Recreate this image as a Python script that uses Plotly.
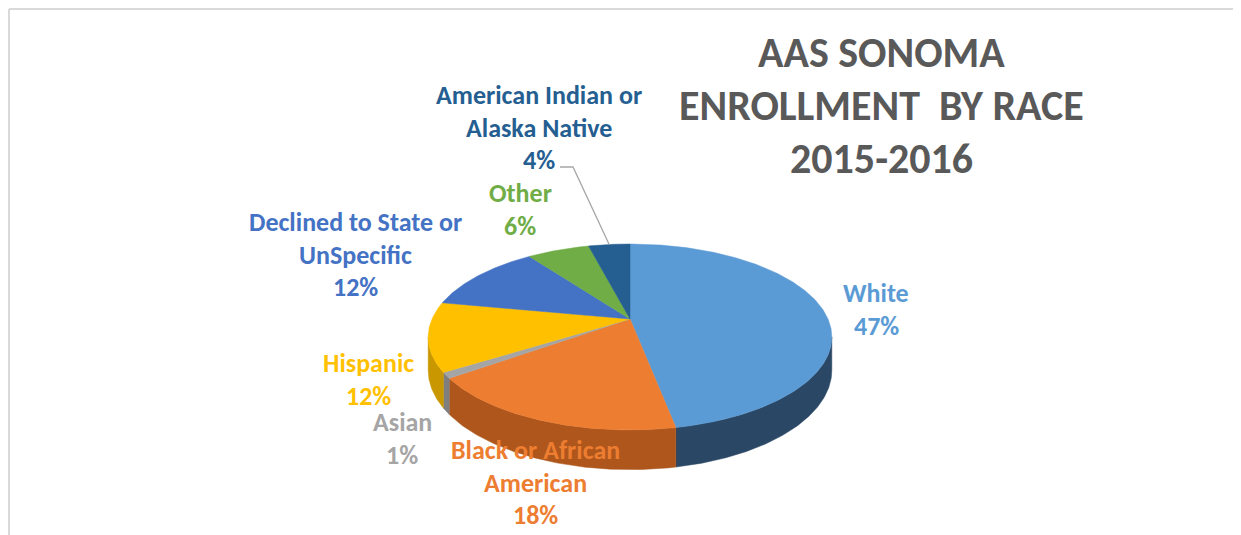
import math
import plotly.graph_objects as go

# ---- data ----
categories = ["White", "Black or African American", "Asian", "Hispanic",
              "Declined to State or UnSpecific", "Other", "American Indian or Alaska Native"]
shares = [47, 18, 1, 12, 12, 6, 4]
pct_labels = ["47%", "18%", "1%", "12%", "12%", "6%", "4%"]
label_lines = [["White"], ["Black or African", "American"], ["Asian"], ["Hispanic"],
               ["Declined to State or", "UnSpecific"], ["Other"], ["American Indian or", "Alaska Native"]]
top_colors = ["#5B9BD5", "#ED7D31", "#A5A5A5", "#FFC000", "#4472C4", "#70AD47", "#255E91"]
side_colors = ["#2A4866", "#AE561B", "#7F7F7F", "#C99800", "#2F5597", "#4E7A31", "#1A4266"]
title_lines = ["AAS SONOMA", "ENROLLMENT  BY RACE", "2015-2016"]

# ---- geometry / style (page pixel space) ----
W, H = 1241, 535
OFF = 8                    # default page body margin
CX, CY = 630, 319          # pie apex on screen
A, B, K = 198, 89.5, 0.1935  # radii and perspective factor
DEPTH = 32
FONT = "Calibri, Carlito, Lato, sans-serif"

def proj(t_deg, r=1.0):
    t = math.radians(t_deg)
    d = 1 + K * r * math.sin(t)
    return CX + A * r * math.cos(t) / d, CY - B * r * math.sin(t) / d

def proj_bottom(t_deg):
    x, y = proj(t_deg)
    d = 1 + K * math.sin(math.radians(t_deg))
    return x, y + DEPTH / d

total = sum(shares)
bounds = []
cum = 0
for v in shares:
    t0 = 90 - 360 * cum / total
    cum += v
    t1 = 90 - 360 * cum / total
    bounds.append((t0, t1))

fig = go.Figure()

ts = math.degrees(math.asin(K))
vis_lo, vis_hi = -180 + ts, -ts

def arc(t_a, t_b, n=None):
    n = n or max(4, int(abs(t_a - t_b) * 1.5))
    return [t_a + (t_b - t_a) * i / n for i in range(n + 1)]

# sides first
for i, (t0, t1) in enumerate(bounds):
    hi, lo = min(t0, vis_hi), max(t1, vis_lo)
    if hi <= lo:
        continue
    tt = arc(hi, lo)
    top = [proj(t) for t in tt]
    bot = [proj_bottom(t) for t in tt][::-1]
    pts = top + bot + [top[0]]
    fig.add_trace(go.Scatter(x=[p[0] for p in pts], y=[p[1] for p in pts], mode="lines",
                             fill="toself", fillcolor=side_colors[i],
                             line=dict(color=side_colors[i], width=0.5),
                             hoverinfo="skip", showlegend=False))

# top faces
for i, (t0, t1) in enumerate(bounds):
    tt = arc(t0, t1)
    pts = [(CX, CY)] + [proj(t) for t in tt] + [(CX, CY)]
    fig.add_trace(go.Scatter(x=[p[0] for p in pts], y=[p[1] for p in pts], mode="lines",
                             fill="toself", fillcolor=top_colors[i],
                             line=dict(color=top_colors[i], width=0.5),
                             name=categories[i], hoverinfo="name", showlegend=False))

# label positions (pixel centers of first line)
label_pos = [(876, 293), (535, 450), (402, 422), (368, 363), (355, 222), (520, 193), (539, 95)]
LINE_H = 32.5
annotations = []
for i, lines in enumerate(label_lines):
    x0, y0 = label_pos[i]
    for j, txt in enumerate(lines + [pct_labels[i]]):
        annotations.append(dict(x=x0, y=y0 + j * LINE_H, xref="x", yref="y", text=txt,
                                showarrow=False, xanchor="center", yanchor="middle",
                                font=dict(family=FONT, size=26, color=top_colors[i], weight="bold")))

# leader line for the American Indian label
mid_t = (bounds[6][0] + bounds[6][1]) / 2
ex, ey = proj(mid_t)
fig.add_trace(go.Scatter(x=[560, 573, ex], y=[167, 167, ey], mode="lines",
                         line=dict(color="#A6A6A6", width=1.3), hoverinfo="skip", showlegend=False))

# title
for j, txt in enumerate(title_lines):
    annotations.append(dict(x=881, y=52 + j * 53, xref="x", yref="y", text=txt, showarrow=False,
                            xanchor="center", yanchor="middle",
                            font=dict(family=FONT, size=42, color="#595959", weight="bold")))

fig.update_layout(
    width=W, height=H, margin=dict(l=0, r=0, t=0, b=0),
    paper_bgcolor="white", plot_bgcolor="white",
    xaxis=dict(range=[OFF, W + OFF], visible=False, fixedrange=True),
    yaxis=dict(range=[H + OFF, OFF], visible=False, fixedrange=True),
    annotations=annotations,
    shapes=[dict(type="line", xref="x", yref="y", x0=OFF + 1, y0=OFF + 1, x1=W + OFF, y1=OFF + 1,
                 line=dict(color="#D9D9D9", width=2)),
            dict(type="line", xref="x", yref="y", x0=OFF + 1, y0=OFF + 1, x1=OFF + 1, y1=H + OFF,
                 line=dict(color="#D9D9D9", width=2))],
)

fig.write_html("out.html")
